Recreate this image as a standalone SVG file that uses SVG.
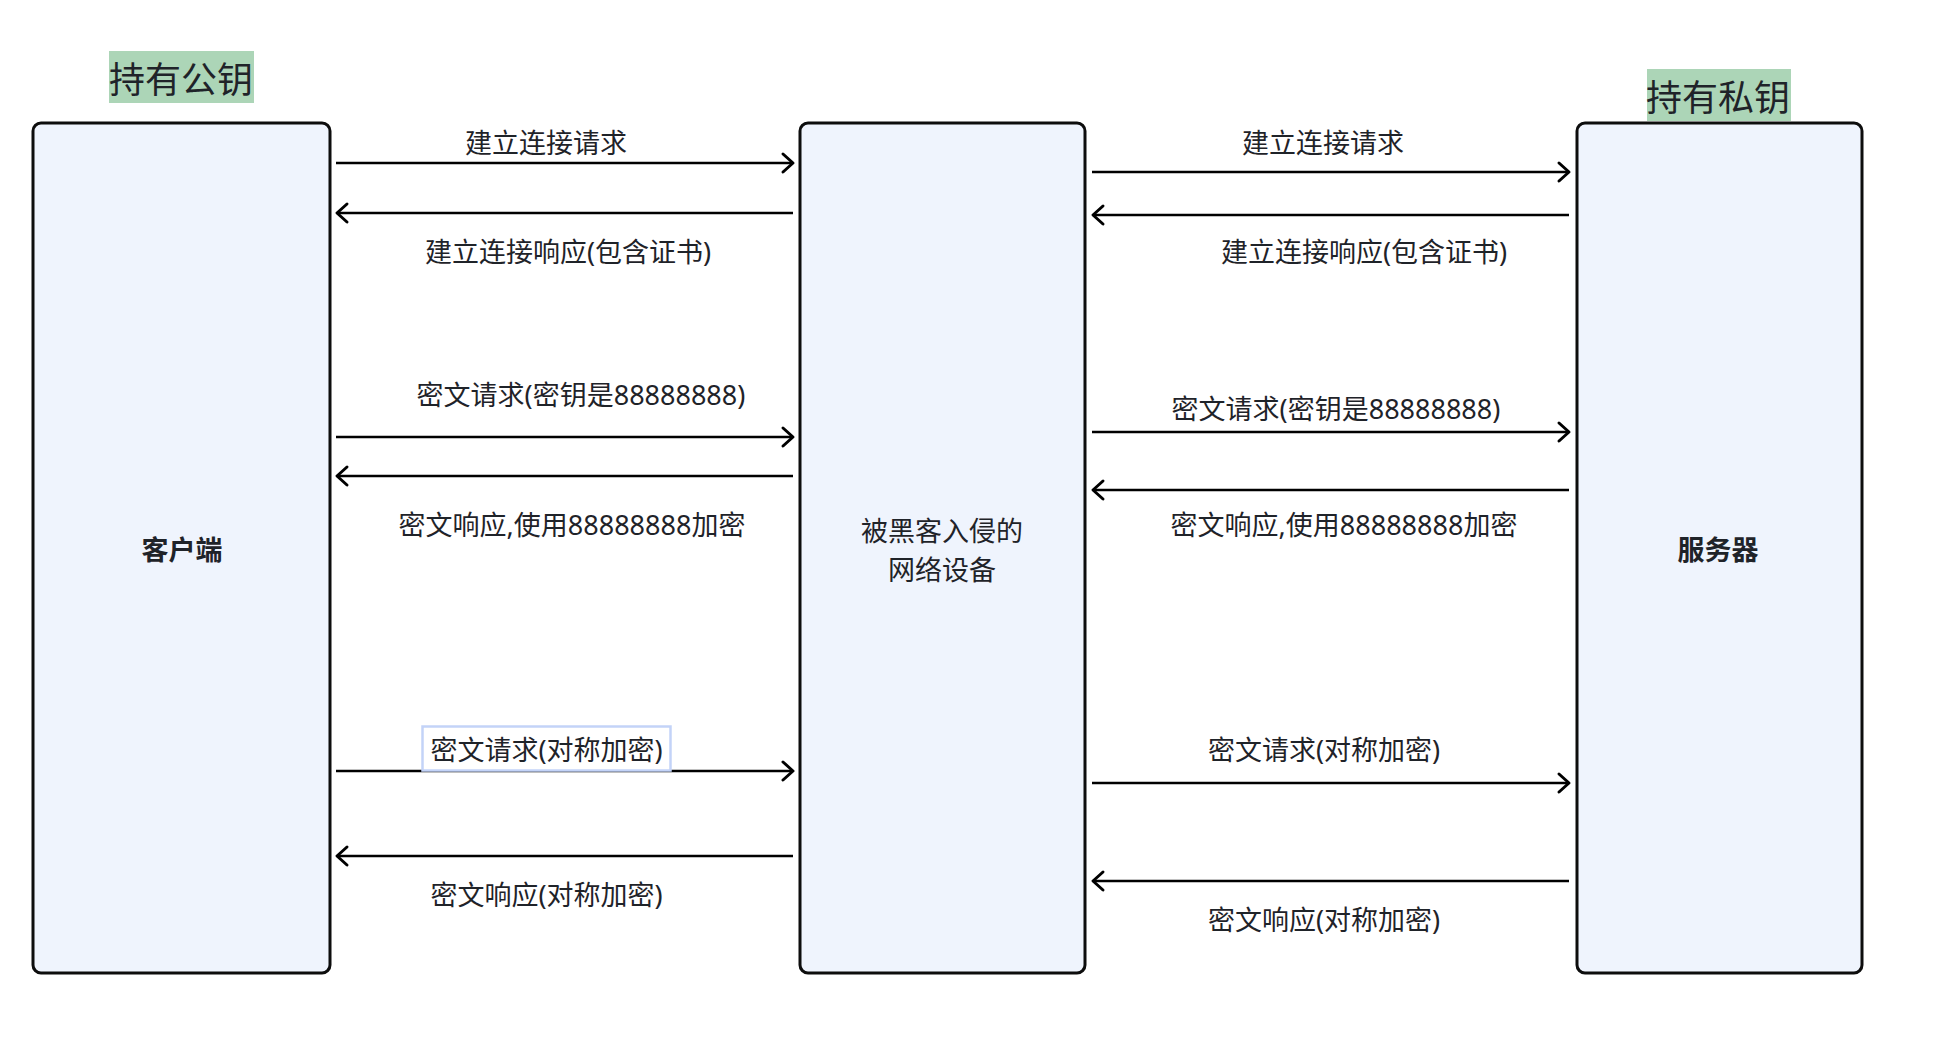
<svg xmlns="http://www.w3.org/2000/svg" width="1952" height="1046" viewBox="0 0 1952 1046">
<style>
.box{fill:#eff4fd;stroke:#0d0d0d;stroke-width:3}
.tag{fill:#acd5b7}
.t{font-family:"Noto Sans CJK SC","Noto Sans",sans-serif;fill:#1f2329;text-anchor:middle}
.lbl{font-family:"Noto Sans","Noto Sans CJK SC",sans-serif;font-size:27px}
.big{font-size:36px}
.bold{font-size:27px;font-weight:bold}
.mid{font-size:27px}
.ln{stroke:#000;stroke-width:2.6;fill:none}
</style>
<defs>
<marker id="ah" markerUnits="userSpaceOnUse" markerWidth="24" markerHeight="24" viewBox="-14 -12 16 24" refX="0" refY="0" orient="auto">
<path d="M -10 -9 L 0 0 L -10 9" fill="none" stroke="#000" stroke-width="3" stroke-linecap="round" stroke-linejoin="round"/>
</marker>
</defs>
<rect width="1952" height="1046" fill="#fff"/>
<g id="tag-public">
<rect class="tag" x="109" y="51" width="145" height="52"/>
<text class="t big" x="181" y="93">持有公钥</text>
</g>
<g id="tag-private">
<rect class="tag" x="1647" y="69" width="144" height="52"/>
<text class="t big" x="1718" y="111">持有私钥</text>
</g>
<g id="client">
<rect class="box" x="33" y="123" width="297" height="850" rx="8"/>
<text class="t bold" x="182" y="560">客户端</text>
</g>
<g id="hacked-device">
<rect class="box" x="800" y="123" width="285" height="850" rx="8"/>
<text class="t mid" x="942" y="541">被黑客入侵的</text>
<text class="t mid" x="942" y="580">网络设备</text>
</g>
<g id="server">
<rect class="box" x="1577" y="123" width="285" height="850" rx="8"/>
<text class="t bold" x="1718" y="560">服务器</text>
</g>
<g id="connectors">
<line class="ln" x1="336" y1="163" x2="793" y2="163" marker-end="url(#ah)"/>
<line class="ln" x1="793" y1="213" x2="337" y2="213" marker-end="url(#ah)"/>
<line class="ln" x1="336" y1="437" x2="793" y2="437" marker-end="url(#ah)"/>
<line class="ln" x1="793" y1="476" x2="337" y2="476" marker-end="url(#ah)"/>
<line class="ln" x1="336" y1="771" x2="793" y2="771" marker-end="url(#ah)"/>
<line class="ln" x1="793" y1="856" x2="337" y2="856" marker-end="url(#ah)"/>
<line class="ln" x1="1092" y1="172" x2="1569" y2="172" marker-end="url(#ah)"/>
<line class="ln" x1="1569" y1="215" x2="1093" y2="215" marker-end="url(#ah)"/>
<line class="ln" x1="1092" y1="432" x2="1569" y2="432" marker-end="url(#ah)"/>
<line class="ln" x1="1569" y1="490" x2="1093" y2="490" marker-end="url(#ah)"/>
<line class="ln" x1="1092" y1="783" x2="1569" y2="783" marker-end="url(#ah)"/>
<line class="ln" x1="1569" y1="881" x2="1093" y2="881" marker-end="url(#ah)"/>
<text class="t lbl" x="546" y="153">建立连接请求</text>
<text class="t lbl" x="568" y="262">建立连接响应(包含证书)</text>
<text class="t lbl" x="581" y="405">密文请求(密钥是88888888)</text>
<text class="t lbl" x="572" y="535">密文响应,使用88888888加密</text>
<rect x="422.5" y="726.5" width="248" height="44" fill="#fff" stroke="#c3d3f8" stroke-width="2.5"/>
<text class="t lbl" x="546.5" y="760">密文请求(对称加密)</text>
<text class="t lbl" x="546.5" y="905">密文响应(对称加密)</text>
<text class="t lbl" x="1323" y="153">建立连接请求</text>
<text class="t lbl" x="1364" y="262">建立连接响应(包含证书)</text>
<text class="t lbl" x="1336" y="419">密文请求(密钥是88888888)</text>
<text class="t lbl" x="1344" y="535">密文响应,使用88888888加密</text>
<text class="t lbl" x="1324" y="760">密文请求(对称加密)</text>
<text class="t lbl" x="1324" y="930">密文响应(对称加密)</text>
</g>
</svg>
